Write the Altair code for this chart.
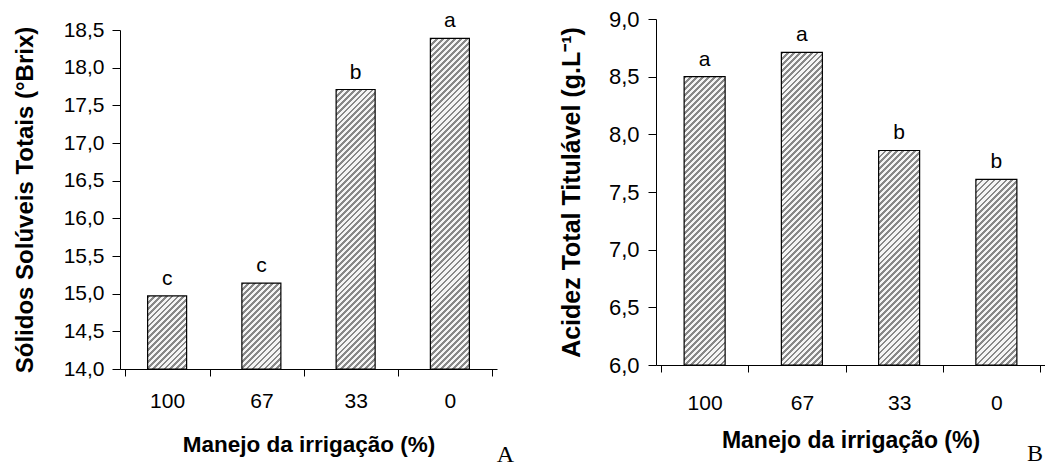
import altair as alt
import pandas as pd

categories = ["100", "67", "33", "0"]
solidos = [14.97, 15.14, 17.71, 18.39]
solidos_letters = ["c", "c", "b", "a"]
acidez = [8.50, 8.71, 7.86, 7.61]
acidez_letters = ["a", "a", "b", "b"]

FONT = "Liberation Sans"
LABEL_EXPR = "replace(format(datum.value, '.1f'), '.', ',')"


def hatch(w, h, period=4.2):
    t = (w + h) / (w * w + h * h)
    n = max(1, round((w + h) / (2 ** 0.5 * period)))
    stops = []
    for k in range(n):
        a, m, b = k / n, (k + 0.47) / n, (k + 1) / n
        stops += [
            {"offset": a, "color": "#888888"},
            {"offset": m, "color": "#888888"},
            {"offset": m, "color": "#f5f5f5"},
            {"offset": b, "color": "#f5f5f5"},
        ]
    return {"gradient": "linear", "x1": 0, "y1": 0, "x2": w * t, "y2": h * t, "stops": stops}


def panel(values, letters, ymin, ymax, W, H, bar_w, ytitle, ticks, letter, p):
    df = pd.DataFrame({"cat": categories, "val": values, "lab": letters})
    x = alt.X(
        "cat:N", sort=categories, scale=alt.Scale(domain=categories),
        axis=alt.Axis(title="Manejo da irrigação (%)", labelAngle=0, tickBand="extent",
                      tickSize=7, labelPadding=p["xlabpad"], titlePadding=p["xtitlepad"],
                      labelFontSize=p["xlabfs"], titleFontSize=p["xtitlefs"]),
    )
    y = alt.Y(
        "val:Q", scale=alt.Scale(domain=[ymin, ymax], nice=False, zero=False),
        axis=alt.Axis(title=ytitle, values=ticks, labelExpr=LABEL_EXPR, tickSize=8,
                      labelPadding=p["ylabpad"], titlePadding=p["ytitlepad"],
                      labelFontSize=p["ylabfs"], titleFontSize=p["ytitlefs"]),
    )
    layers = []
    for i in range(len(categories)):
        h = (values[i] - ymin) / (ymax - ymin) * H
        layers.append(
            alt.Chart(df.iloc[[i]]).mark_bar(
                fill=hatch(bar_w, h), stroke="black", strokeWidth=1.2, size=bar_w
            ).encode(x=x, y=y, y2=alt.datum(ymin))
        )
    text = alt.Chart(df).mark_text(
        dy=-11, baseline="alphabetic", fontSize=21, font=FONT, color="black"
    ).encode(x=x, y=y, text="lab:N")
    return alt.layer(*layers, text).properties(
        width=W, height=H,
        title=alt.TitleParams(letter, orient="bottom", anchor="end", frame="group",
                              font="Liberation Serif", fontSize=24, fontWeight="normal",
                              color="black", dx=p["ldx"], offset=p["loff"]),
    )


A = panel(solidos, solidos_letters, 14.0, 18.5, 377, 339, 39,
          "Sólidos Solúveis Totais (°Brix)", [14 + 0.5 * k for k in range(10)], "A",
          dict(ylabpad=8, ytitlepad=26, xlabpad=14, xtitlepad=22, ylabfs=21, xlabfs=21,
               ytitlefs=24, xtitlefs=22.5, ldx=17, loff=-13))
B = panel(acidez, acidez_letters, 6.0, 9.0, 389, 346, 41,
          "Acidez Total Titulável (g.L⁻¹)", [6 + 0.5 * k for k in range(7)], "B",
          dict(ylabpad=9, ytitlepad=24, xlabpad=20, xtitlepad=16, ylabfs=22, xlabfs=21,
               ytitlefs=25, xtitlefs=23, ldx=-2, loff=-10))

# invisible spacer that lowers panel A relative to panel B
spacer = alt.Chart(pd.DataFrame({"v": [0]})).mark_point(opacity=0).encode(
    x=alt.value(0), y=alt.value(0)
).properties(width=1, height=1)

left = alt.vconcat(spacer, A, spacing=10, bounds="flush")

chart = alt.hconcat(left, B, spacing=45).properties(
    padding={"left": 5, "top": 0, "right": 0, "bottom": 0}
).configure_axis(
    labelFont=FONT, labelColor="black",
    titleFont=FONT, titleFontWeight="bold", titleColor="black",
    domainColor="black", tickColor="black", domainWidth=1, tickWidth=1, grid=False,
).configure_view(strokeOpacity=0)

chart.save("out.html", embed_options={"renderer": "svg", "actions": False})
